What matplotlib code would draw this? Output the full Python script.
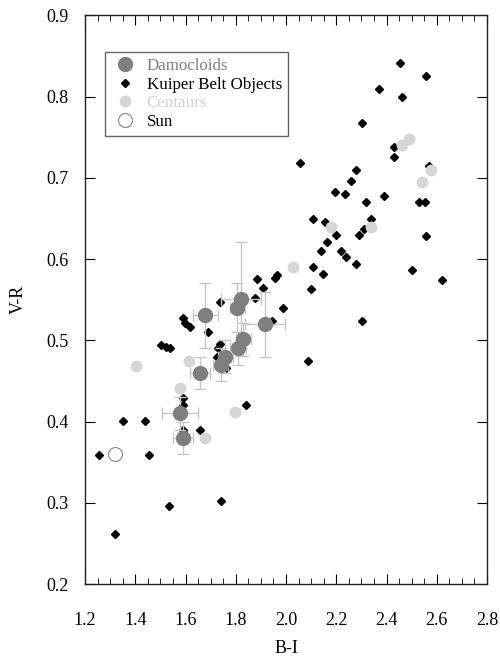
import matplotlib.pyplot as plt
from matplotlib.ticker import MultipleLocator

# Damocloids (B-I, V-R) with errors
dam_bi = [1.679, 1.820, 1.806, 1.918, 1.830, 1.809, 1.758, 1.740, 1.658, 1.578, 1.589]
dam_vr = [0.531, 0.551, 0.540, 0.520, 0.501, 0.490, 0.480, 0.470, 0.460, 0.410, 0.380]
dam_bi_err = [0.05, 0.08, 0.03, 0.08, 0.03, 0.03, 0.03, 0.03, 0.04, 0.07, 0.04]
dam_vr_err = [0.04, 0.07, 0.03, 0.04, 0.02, 0.02, 0.02, 0.02, 0.02, 0.02, 0.02]

# Kuiper Belt Objects
kbo_bi = [1.254, 1.350, 1.440, 1.456, 1.321, 1.533, 1.743, 1.841, 1.658, 1.589,
          1.589, 1.591, 1.883, 1.965, 1.957, 1.910, 1.878, 1.737, 1.989, 1.589,
          1.599, 1.618, 1.690, 1.504, 1.522, 1.538, 1.737, 1.729, 1.724, 1.761,
          1.944, 2.088, 2.454, 2.557, 2.369, 2.462, 2.302, 2.430, 2.430, 2.056,
          2.570, 2.279, 2.257, 2.194, 2.233, 2.390, 2.318, 2.528, 2.552, 2.109,
          2.156, 2.340, 2.311, 2.199, 2.289, 2.162, 2.557, 2.138, 2.217, 2.239,
          2.279, 2.109, 2.146, 2.098, 2.502, 2.621, 2.302]
kbo_vr = [0.359, 0.401, 0.401, 0.359, 0.261, 0.296, 0.302, 0.420, 0.390, 0.429,
          0.420, 0.390, 0.575, 0.580, 0.577, 0.564, 0.552, 0.547, 0.540, 0.527,
          0.521, 0.516, 0.510, 0.494, 0.492, 0.491, 0.496, 0.491, 0.480, 0.466,
          0.524, 0.474, 0.841, 0.825, 0.809, 0.800, 0.767, 0.738, 0.726, 0.718,
          0.714, 0.710, 0.696, 0.682, 0.680, 0.677, 0.670, 0.670, 0.670, 0.649,
          0.645, 0.649, 0.637, 0.630, 0.630, 0.621, 0.628, 0.610, 0.610, 0.602,
          0.594, 0.590, 0.581, 0.563, 0.586, 0.574, 0.524]

# Centaurs
cen_bi = [2.026, 1.613, 1.403, 1.578, 1.798, 1.679, 2.179, 2.338, 2.462, 2.491, 2.578, 2.541]
cen_vr = [0.590, 0.474, 0.468, 0.441, 0.412, 0.380, 0.640, 0.640, 0.740, 0.748, 0.709, 0.695]

# Sun
sun_bi = [1.321]
sun_vr = [0.360]

plt.rcParams['font.family'] = ['Liberation Serif', 'DejaVu Serif']

fig = plt.figure(figsize=(5.0, 6.59), dpi=100)
ax = fig.add_axes([0.17, 0.1138, 0.804, 0.863])

ax.plot(kbo_bi, kbo_vr, 'D', color='black', markersize=4, zorder=2,
        label='Kuiper Belt Objects')
ax.plot(cen_bi, cen_vr, 'o', color='#d6d6d6', markersize=7.5, zorder=3,
        label='Centaurs')
ax.errorbar(dam_bi, dam_vr, xerr=dam_bi_err, yerr=dam_vr_err, fmt='none',
            ecolor='#c8c8c8', elinewidth=1, capsize=4, zorder=3.5)
ax.plot(dam_bi, dam_vr, 'o', color='#7f7f7f', markersize=10, zorder=4,
        label='Damocloids')
ax.plot(sun_bi, sun_vr, 'o', markerfacecolor='white', markeredgecolor='#888888',
        markeredgewidth=0.8, markersize=10, zorder=4, label='Sun')

ax.set_xlim(1.2, 2.8)
ax.set_ylim(0.2, 0.9)
ax.xaxis.set_major_locator(MultipleLocator(0.2))
ax.xaxis.set_minor_locator(MultipleLocator(0.05))
ax.yaxis.set_major_locator(MultipleLocator(0.1))
ax.xaxis.set_major_formatter(plt.FormatStrFormatter('%.1f'))
ax.yaxis.set_major_formatter(plt.FormatStrFormatter('%.1f'))
ax.tick_params(which='both', direction='in', top=True, right=True, labelsize=13)
ax.tick_params(axis='x', which='major', length=7, pad=20)
ax.tick_params(axis='x', which='minor', length=4)
ax.tick_params(axis='y', which='major', length=7, pad=12)
for s in ax.spines.values():
    s.set_linewidth(1)
    s.set_color('#222222')

ax.set_xlabel('B-I', fontsize=13, labelpad=8)
ax.set_ylabel('V-R', fontsize=13, labelpad=14)

handles, labels = ax.get_legend_handles_labels()
order = [2, 0, 1, 3]
leg = ax.legend([handles[i] for i in order], [labels[i] for i in order],
                loc='upper left', bbox_to_anchor=(0.05, 0.935), borderaxespad=0,
                fontsize=12.2, fancybox=False, edgecolor='#666666', framealpha=1,
                handletextpad=0.5, borderpad=0.35, labelspacing=0.15,
                handlelength=1.6)
leg.get_frame().set_linewidth(1)
text_colors = ['#7f7f7f', 'black', '#d0d0d0', 'black']
for t, c in zip(leg.get_texts(), text_colors):
    t.set_color(c)

plt.savefig('out.png', dpi=100)
